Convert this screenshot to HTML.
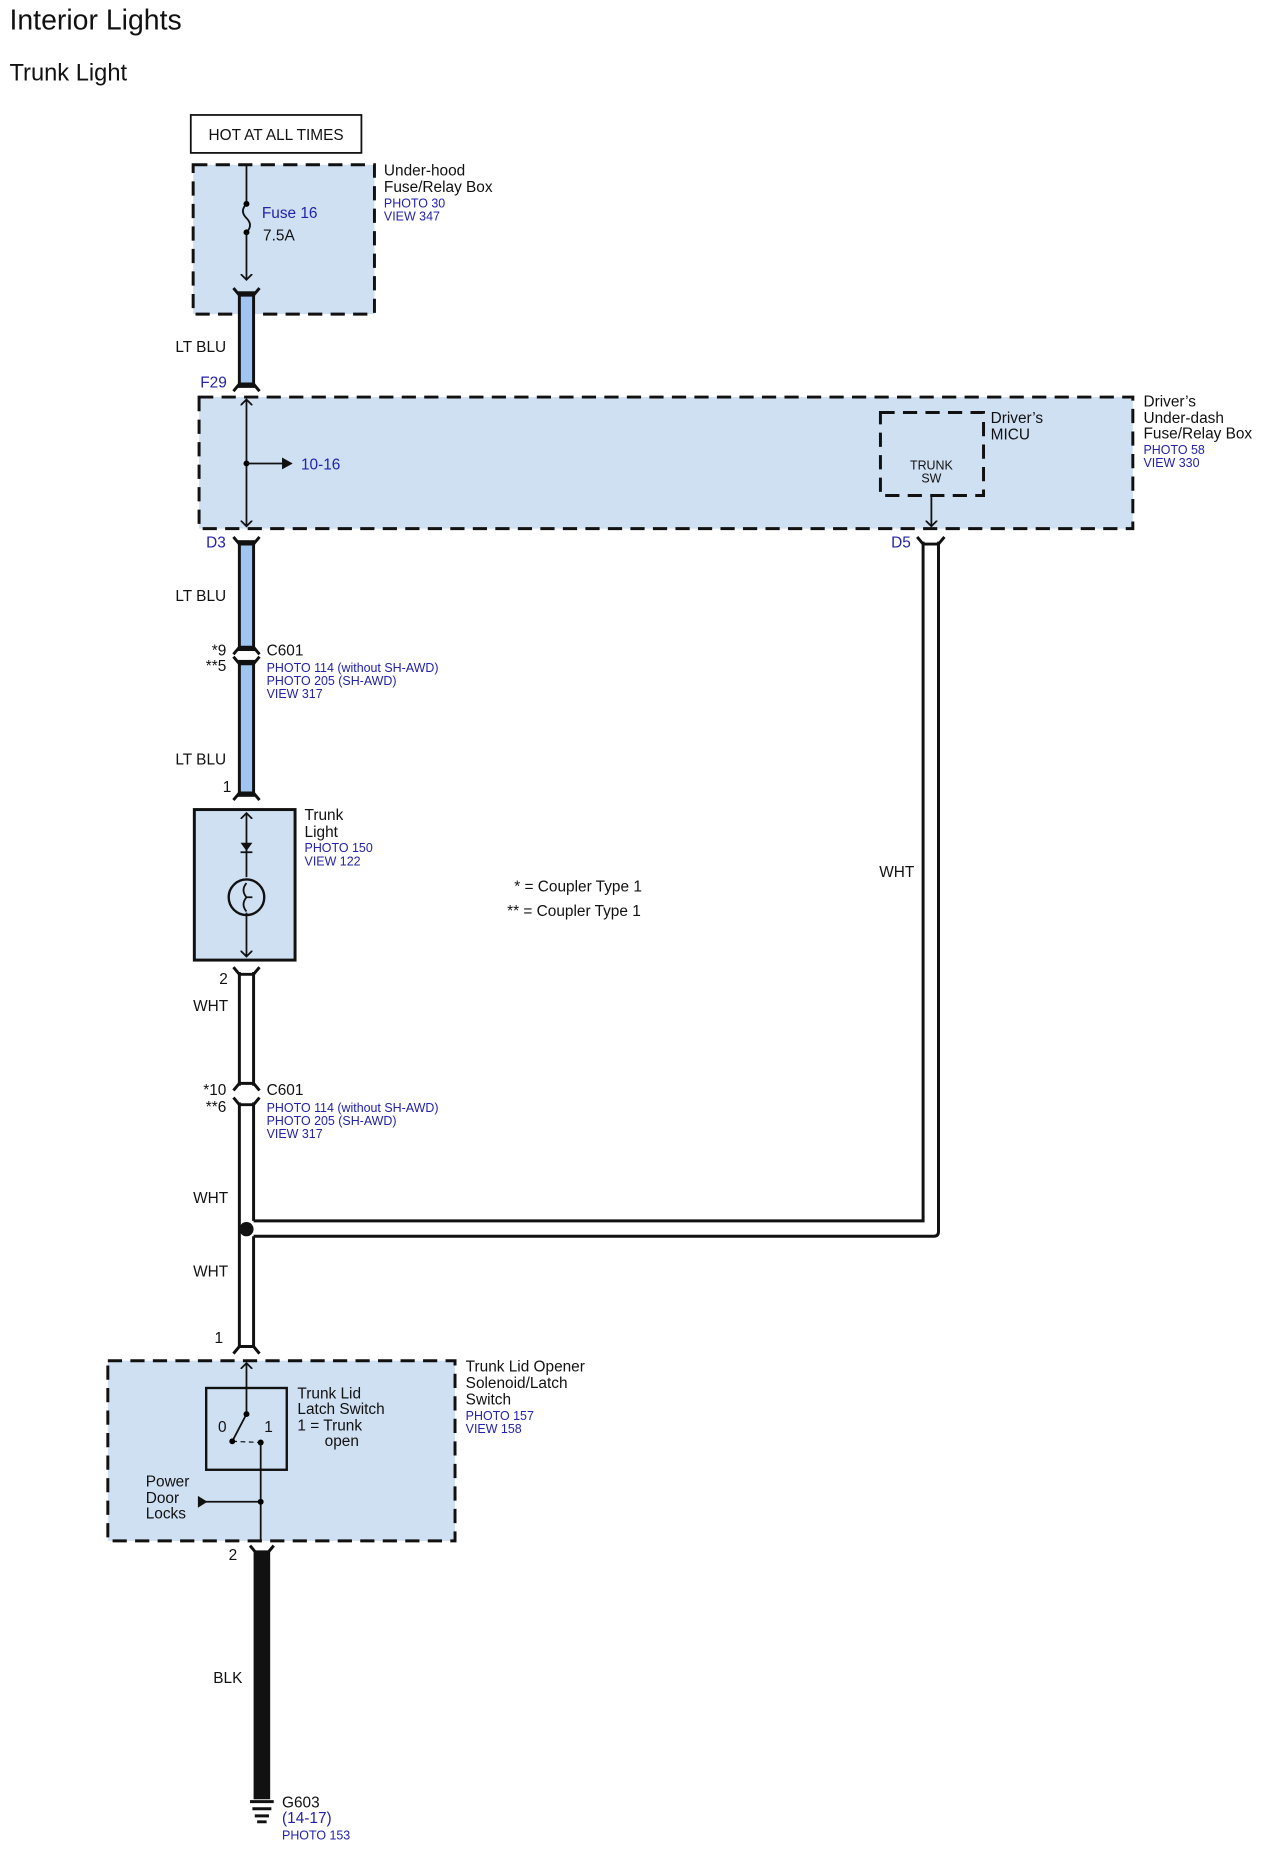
<!DOCTYPE html>
<html><head><meta charset="utf-8"><style>
html,body{margin:0;padding:0;background:#fff;}
svg{display:block;}
text{font-family:"Liberation Sans",Arial,sans-serif;fill:#111;}
.b{fill:#2222aa;}
.s{font-size:10.5px;}
.m{font-size:13px;}
</style></head><body>
<svg width="1262" height="1855" viewBox="0 0 1065 1565" preserveAspectRatio="none" xmlns="http://www.w3.org/2000/svg">
<defs>
<marker id="ah" markerWidth="10" markerHeight="10" refX="5" refY="5" orient="auto" markerUnits="userSpaceOnUse"><path d="M0,0 L5,5 L0,10" fill="none" stroke="#111" stroke-width="1.5"/></marker>
<marker id="tri" markerWidth="10" markerHeight="10" refX="8" refY="5" orient="auto" markerUnits="userSpaceOnUse"><path d="M0,0 L9,5 L0,10z" fill="#111"/></marker>
</defs>
<text x="8" y="25" font-size="24">Interior Lights</text>
<text x="8" y="68" font-size="20">Trunk Light</text>

<rect x="161" y="97" width="144" height="32" fill="#fff" stroke="#111" stroke-width="1.5"/>
<text x="233" y="118" class="m" text-anchor="middle">HOT AT ALL TIMES</text>

<rect x="163" y="139" width="153" height="126" fill="#cfe0f3" stroke="#111" stroke-width="2.5" stroke-dasharray="12,7"/>
<line x1="208" y1="139" x2="208" y2="172" stroke="#111" stroke-width="1.5"/>
<path d="M208,172 q-6,6 0,12 q6,6 0,12" fill="none" stroke="#111" stroke-width="1.5"/>
<circle cx="208" cy="172" r="2.5"/><circle cx="208" cy="196" r="2.5"/>
<line x1="208" y1="196" x2="208" y2="236" stroke="#111" stroke-width="1.5" marker-end="url(#ah)"/>
<text x="221" y="184" class="m b">Fuse 16</text>
<text x="222" y="203" class="m">7.5A</text>
<text x="324" y="148" class="m">Under-hood</text>
<text x="324" y="162" class="m">Fuse/Relay Box</text>
<text x="324" y="175" class="s b">PHOTO 30</text>
<text x="324" y="186" class="s b">VIEW 347</text>

<rect x="202" y="247" width="12" height="79" fill="#9fc5f0" stroke="#111" stroke-width="2.5"/>
<path d="M197,243 L202,249 L214,249 L219,243 M197,330 L202,324 L214,324 L219,330" fill="none" stroke="#111" stroke-width="2.5"/>
<text x="148" y="297" class="m">LT BLU</text>
<text x="169" y="327" class="m b">F29</text>

<rect x="168" y="335" width="788" height="111" fill="#cfe0f3" stroke="#111" stroke-width="2.5" stroke-dasharray="12,7"/>
<line x1="208" y1="391" x2="208" y2="337" stroke="#111" stroke-width="1.5" marker-end="url(#ah)"/>
<line x1="208" y1="391" x2="208" y2="444" stroke="#111" stroke-width="1.5" marker-end="url(#ah)"/>
<circle cx="208" cy="391" r="2.5"/>
<line x1="208" y1="391" x2="246" y2="391" stroke="#111" stroke-width="1.5" marker-end="url(#tri)"/>
<text x="254" y="396" class="m b">10-16</text>
<rect x="743" y="348" width="87" height="70" fill="#cfe0f3" stroke="#111" stroke-width="2.5" stroke-dasharray="12,7"/>
<text x="786" y="396" font-size="10.5" text-anchor="middle">TRUNK</text>
<text x="786" y="407" font-size="10.5" text-anchor="middle">SW</text>
<line x1="786" y1="418" x2="786" y2="444" stroke="#111" stroke-width="1.5" marker-end="url(#ah)"/>
<text x="836" y="357" class="m">Driver’s</text>
<text x="836" y="371" class="m">MICU</text>
<text x="965" y="343" class="m">Driver’s</text>
<text x="965" y="357" class="m">Under-dash</text>
<text x="965" y="370" class="m">Fuse/Relay Box</text>
<text x="965" y="383" class="s b">PHOTO 58</text>
<text x="965" y="394" class="s b">VIEW 330</text>
<text x="174" y="462" class="m b">D3</text>
<text x="752" y="462" class="m b">D5</text>

<rect x="202" y="457" width="12" height="91" fill="#9fc5f0" stroke="#111" stroke-width="2.5"/>
<path d="M197,453 L202,459 L214,459 L219,453 M197,552 L202,546 L214,546 L219,552" fill="none" stroke="#111" stroke-width="2.5"/>
<rect x="202" y="558" width="12" height="113" fill="#9fc5f0" stroke="#111" stroke-width="2.5"/>
<path d="M197,554 L202,560 L214,560 L219,554 M197,675 L202,669 L214,669 L219,675" fill="none" stroke="#111" stroke-width="2.5"/>
<text x="148" y="507" class="m">LT BLU</text>
<text x="191" y="553" class="m" text-anchor="end">*9</text>
<text x="191" y="566" class="m" text-anchor="end">**5</text>
<text x="225" y="553" class="m">C601</text>
<text x="225" y="567" class="s b">PHOTO 114 (without SH-AWD)</text>
<text x="225" y="578" class="s b">PHOTO 205 (SH-AWD)</text>
<text x="225" y="589" class="s b">VIEW 317</text>
<text x="148" y="645" class="m">LT BLU</text>
<text x="188" y="668" class="m">1</text>

<rect x="164" y="683" width="85" height="127" fill="#cfe0f3" stroke="#111" stroke-width="2.5"/>
<line x1="208" y1="740" x2="208" y2="686" stroke="#111" stroke-width="1.5" marker-end="url(#ah)"/>
<path d="M203,711 L213,711 L208,718z" fill="#111"/>
<line x1="203" y1="719" x2="213" y2="719" stroke="#111" stroke-width="1.5"/>
<circle cx="208" cy="757" r="15" fill="none" stroke="#111" stroke-width="2"/>
<path d="M208,745 q-5,6 0,12 q5,0 5,0 M208,757 q-5,6 0,12" fill="none" stroke="#111" stroke-width="1.5"/>
<line x1="208" y1="770" x2="208" y2="807" stroke="#111" stroke-width="1.5" marker-end="url(#ah)"/>
<text x="257" y="692" class="m">Trunk</text>
<text x="257" y="706" class="m">Light</text>
<text x="257" y="719" class="s b">PHOTO 150</text>
<text x="257" y="730" class="s b">VIEW 122</text>

<path d="M202,820 L202,916 M214,820 L214,916 M202,930 L202,1137 M214,930 L214,1030 M214,1043 L214,1137" stroke="#111" stroke-width="2.5" fill="none"/>
<path d="M197,816 L202,822 L214,822 L219,816 M197,920 L202,914 L214,914 L219,920 M197,926 L202,932 L214,932 L219,926 M197,1142 L202,1136 L214,1136 L219,1142" fill="none" stroke="#111" stroke-width="2.5"/>
<path d="M214,1030 L779,1030 L779,457 M214,1043 L788,1043 Q792,1043 792,1039 L792,457" stroke="#111" stroke-width="2.5" fill="none"/>
<path d="M774,453 L779,459 L792,459 L797,453" fill="none" stroke="#111" stroke-width="2.5"/>
<circle cx="208" cy="1037" r="6" fill="#111"/>
<text x="185" y="830" class="m">2</text>
<text x="163" y="853" class="m">WHT</text>
<text x="191" y="924" class="m" text-anchor="end">*10</text>
<text x="191" y="938" class="m" text-anchor="end">**6</text>
<text x="225" y="924" class="m">C601</text>
<text x="225" y="938" class="s b">PHOTO 114 (without SH-AWD)</text>
<text x="225" y="949" class="s b">PHOTO 205 (SH-AWD)</text>
<text x="225" y="960" class="s b">VIEW 317</text>
<text x="163" y="1015" class="m">WHT</text>
<text x="163" y="1077" class="m">WHT</text>
<text x="742" y="740" class="m">WHT</text>
<text x="181" y="1133" class="m">1</text>
<text x="434" y="752" class="m">* =  Coupler Type 1</text>
<text x="428" y="773" class="m">** =  Coupler Type 1</text>

<rect x="91" y="1148" width="293" height="152" fill="#cfe0f3" stroke="#111" stroke-width="2.5" stroke-dasharray="12,7"/>
<rect x="174" y="1171" width="68" height="69" fill="#cfe0f3" stroke="#111" stroke-width="2"/>
<line x1="208" y1="1193" x2="208" y2="1150" stroke="#111" stroke-width="1.5" marker-end="url(#ah)"/>
<line x1="208" y1="1193" x2="196" y2="1216" stroke="#111" stroke-width="1.5"/>
<line x1="196" y1="1216" x2="220" y2="1217" stroke="#111" stroke-width="1" stroke-dasharray="4,3"/>
<circle cx="208" cy="1193" r="2.5"/><circle cx="196" cy="1216" r="2.5"/><circle cx="220" cy="1217" r="2.5"/>
<line x1="220" y1="1217" x2="220" y2="1300" stroke="#111" stroke-width="1.5"/>
<line x1="168" y1="1267" x2="220" y2="1267" stroke="#111" stroke-width="1.5"/>
<path d="M167,1262 L175,1267 L167,1272z" fill="#111"/>
<circle cx="220" cy="1267" r="2.5"/>
<text x="184" y="1208" class="m">0</text>
<text x="223" y="1208" class="m">1</text>
<text x="251" y="1180" class="m">Trunk Lid</text>
<text x="251" y="1193" class="m">Latch Switch</text>
<text x="251" y="1207" class="m">1 = Trunk</text>
<text x="274" y="1220" class="m">open</text>
<text x="123" y="1254" class="m">Power</text>
<text x="123" y="1268" class="m">Door</text>
<text x="123" y="1281" class="m">Locks</text>
<text x="393" y="1157" class="m">Trunk Lid Opener</text>
<text x="393" y="1171" class="m">Solenoid/Latch</text>
<text x="393" y="1185" class="m">Switch</text>
<text x="393" y="1198" class="s b">PHOTO 157</text>
<text x="393" y="1209" class="s b">VIEW 158</text>

<path d="M211,1304 L216,1310 L226,1310 L231,1304" fill="none" stroke="#111" stroke-width="2.5"/>
<rect x="214" y="1308" width="14" height="210" fill="#111"/>
<text x="193" y="1316" class="m">2</text>
<text x="180" y="1420" class="m">BLK</text>
<path d="M211,1520 L231,1520 M213,1526 L229,1526 M215,1532 L227,1532 M217,1537 L225,1537" stroke="#111" stroke-width="2.5"/>
<text x="238" y="1525" class="m">G603</text>
<text x="238" y="1538" class="m b">(14-17)</text>
<text x="238" y="1552" class="s b">PHOTO 153</text>
</svg>
</body></html>
